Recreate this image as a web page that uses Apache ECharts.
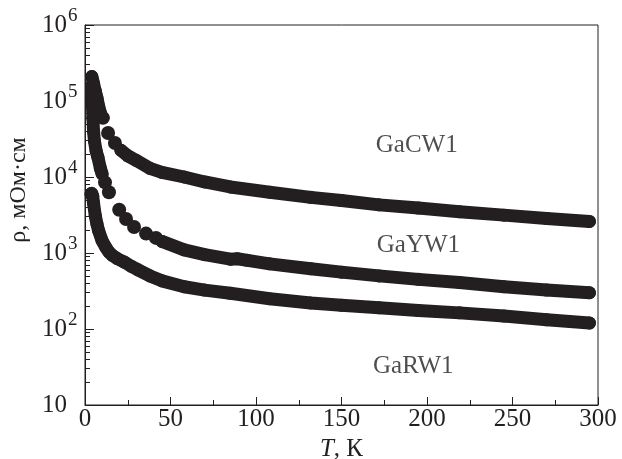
<!DOCTYPE html>
<html><head><meta charset="utf-8">
<script src="https://cdn.jsdelivr.net/npm/echarts@6/dist/echarts.min.js"></script>
<style>html,body{margin:0;padding:0;background:#fff}#c{width:622px;height:459px}</style>
</head><body><div id="c"></div>
<script>
// GaCW1
const cwSteep = [[4,2.1e5],[5,1.7e5],[6,1.35e5],[7,1.1e5],[8,8.5e4],[9,7.0e4]];
const cwDots  = [[10.5,6.0e4],[13.5,3.8e4],[17.5,2.8e4]];
const cwTail  = [[21,2.25e4],[25,1.9e4],[30,1.65e4],[38,1.3e4],[45,1.15e4],[58,1.0e4],[70,8.6e3],[85,7.4e3],[108,6.3e3],[132,5.4e3],[150,4.9e3],[172,4.3e3],[195,3.9e3],[219,3.5e3],[245,3.15e3],[270,2.85e3],[295,2.6e3]];
// GaYW1
const ywSteep = [[4,1.6e5],[4.3,1.0e5],[4.6,6.0e4],[5,4.0e4],[5.5,3.0e4],[6.5,2.2e4],[7.6,1.8e4],[9,1.3e4],[10,1.1e4]];
const ywDots  = [[11.7,8.5e3],[14,6.3e3],[20,3.7e3],[24,2.8e3],[28.7,2.2e3],[35.7,1.8e3],[41.5,1.58e3]];
const ywTail  = [[45,1.42e3],[58,1.1e3],[70,950],[85,830],[89,840],[95,800],[108,720],[132,620],[150,560],[172,500],[195,450],[219,410],[245,360],[270,325],[295,300]];
// GaRW1
const rwLine  = [[3.5,6.0e3],[4,6.1e3],[4.5,5.6e3],[5,4.5e3],[6,3.1e3],[7,2.4e3],[8,1.95e3],[10,1.45e3],[12,1.2e3],[14,1.03e3],[16,930],[19,840],[23,760],[27,670],[31,600],[38,500],[45,430],[58,360],[70,325],[85,295],[108,250],[132,220],[150,205],[172,190],[195,175],[219,163],[245,148],[270,132],[295,120]];
// sample labels
const sampleNames = ['GaCW1','GaYW1','GaRW1'];
const sampleLabelT = [194,195,192];
const sampleLabelRho = [2.6e4,1.27e3,32];
// axis ticks
const yMinorTicks = [20,30,40,50,60,70,80,90,200,300,400,500,600,700,800,900,2000,3000,4000,5000,6000,7000,8000,9000,2e4,3e4,4e4,5e4,6e4,7e4,8e4,9e4,2e5,3e5,4e5,5e5,6e5,7e5,8e5,9e5];

const ink = '#231f20';
const serif = '"Liberation Serif","DejaVu Serif",serif';
const chart = echarts.init(document.getElementById('c'), null, {renderer:'canvas'});
function bandSeries(data){
  return {type:'line', data:data, symbol:'circle', symbolSize:13, showSymbol:true,
    lineStyle:{color:ink,width:13,cap:'round',join:'round',opacity:1}, itemStyle:{color:ink,opacity:1},
    animation:false, silent:true, z:3};
}
function dotSeries(data){
  return {type:'scatter', data:data, symbol:'circle', symbolSize:14, itemStyle:{color:ink,opacity:1}, animation:false, silent:true, z:3};
}
chart.setOption({
  animation:false,
  grid:{left:85,right:24,top:25,bottom:54,containLabel:false,outerBoundsMode:'none',show:true,borderColor:ink,borderWidth:1},
  xAxis:{type:'value',min:0,max:300,interval:50,
    axisLine:{lineStyle:{color:ink,width:1}},
    axisTick:{inside:true,length:8,lineStyle:{color:ink}},
    minorTick:{show:true,splitNumber:2,length:5,lineStyle:{color:ink}},
    splitLine:{show:false},
    axisLabel:{color:ink,fontFamily:serif,fontSize:25,margin:2},
    name:'{i|T}, К', nameLocation:'middle', nameGap:25,
    nameTextStyle:{color:ink,fontFamily:serif,fontSize:25,rich:{i:{fontStyle:'italic',fontFamily:serif,fontSize:25,color:ink}}}
  },
  yAxis:[{type:'log',logBase:10,min:10,max:1e6,
    axisLine:{show:true,lineStyle:{color:ink,width:1}},
    axisTick:{show:true,inside:true,length:9,lineStyle:{color:ink}},
    splitLine:{show:false},
    axisLabel:{color:ink,margin:43,align:'left',
      formatter:function(v){const e=Math.round(Math.log10(v)); return e===1?'{b|10}':'{b|10}{s|'+e+'}';},
      rich:{b:{fontFamily:serif,fontSize:25,color:ink,lineHeight:36},
            s:{fontFamily:serif,fontSize:19,color:ink,verticalAlign:'top',lineHeight:20,padding:[0,0,0,1]}}},
    name:'ρ, мОм·см', nameLocation:'middle', nameGap:54,
    nameTextStyle:{color:ink,fontFamily:serif,fontSize:24,padding:[0,0,0,50]}
  },{type:'log',logBase:10,min:10,max:1e6,position:'left',
    axisLine:{show:false},
    axisTick:{show:true,inside:true,length:5,customValues:yMinorTicks,lineStyle:{color:ink}},
    axisLabel:{show:false}, splitLine:{show:false}
  }],
  series:[
    bandSeries(cwSteep), dotSeries(cwDots), bandSeries(cwTail),
    bandSeries(ywSteep), dotSeries(ywDots), bandSeries(ywTail),
    bandSeries(rwLine),
    {type:'scatter', symbolSize:0, silent:true, animation:false,
     data: sampleNames.map((n,i)=>({value:[sampleLabelT[i],sampleLabelRho[i]],name:n})),
     label:{show:true,position:'inside',formatter:'{b}',color:ink,fontFamily:serif,fontSize:25}}
  ]
});
</script></body></html>
